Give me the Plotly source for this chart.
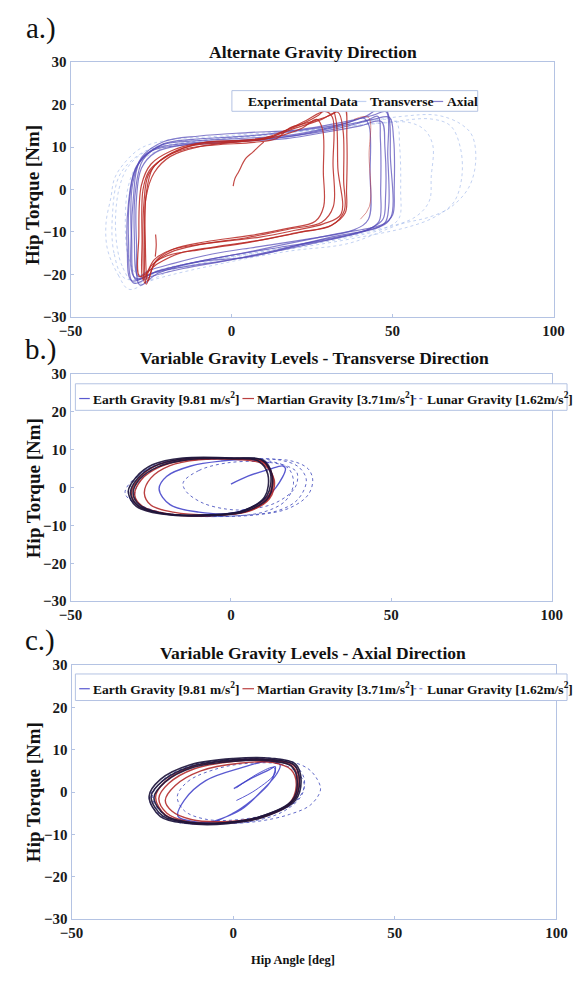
import plotly.graph_objects as go

W, H = 579, 982
FONT = "Liberation Serif"

# ---------------- data: hip angle [deg] / hip torque [Nm] loop vertices ----------------
EXPERIMENTAL_LOOPS = [
    [(-31.9, -23.5), (-35, -20.4), (-38.5, -14.2), (-39, -8), (-37.5, -2), (-36.3, 2.7), (-33, 6.5),
     (-28, 9.8), (-20, 11.6), (-5, 12.5), (15, 13.6), (35, 15.2), (52.7, 17.2), (63.7, 17.5), (71, 15.5),
     (74.7, 12.7), (75.8, 6.5), (73.6, 0.4), (68, -4.2), (61.4, -6.5), (52.7, -8.1), (36.3, -12.7),
     (18, -14.5), (-2.2, -17.3), (-24, -21.2), (-31.9, -23.5)],
    [(-30, -22), (-34, -18), (-36, -10), (-35, 0), (-32, 5.5), (-26, 9.2), (-15, 11), (5, 12.4), (25, 14),
     (45, 15.5), (55, 15.8), (60, 14), (62.5, 10.4), (62, 3), (61.4, -2.7), (57, -6.5), (45, -9.5),
     (25, -12.6), (5, -15), (-15, -18), (-30, -22)],
    [(-33, -21), (-36.5, -15), (-37, -6), (-35, 3), (-30, 7.5), (-22, 10.5), (-8, 12), (12, 13), (32, 14.5),
     (50, 16), (62, 16.6), (68, 15), (71, 10), (71.5, 3), (69, -3), (63, -6.5), (55, -8.8), (38, -11.5),
     (20, -13.8), (0, -16), (-20, -19), (-33, -21)],
    [(-29, -20), (-32, -16), (-33, -8), (-32, 1), (-29, 6), (-22, 9.5), (-10, 11.5), (10, 12.8), (30, 14.6),
     (45, 16.4), (51, 16), (52.2, 10), (52.5, 0), (52, -6.8), (48, -9), (35, -11.5), (15, -14), (-5, -16.4),
     (-20, -18.4), (-29, -20)],
]

TRANSVERSE_LOOPS = [
    [(-29.7, -21.2), (-31, -12), (-30.5, -2), (-28.6, 6.5), (-22, 10.4), (-16.5, 11.2), (0, 11.9), (19.8, 13),
     (36.3, 15.8), (41.8, 17.3), (47.3, 19.6), (48.9, 17), (49.3, 8), (49.5, -6.5), (46, -8.8), (30.8, -11.2),
     (14.3, -14.2), (0, -16.5), (-13, -18), (-24, -19.6), (-29.7, -21.2)],
    [(-30.5, -22), (-32, -12), (-31.5, -1), (-29.5, 5.5), (-24, 9.5), (-15, 10.8), (0, 11.5), (18, 12.5),
     (33, 14.8), (42, 16.3), (45.5, 17.2), (46.2, 12), (46.3, 0), (45.8, -7.5), (42, -9.6), (28, -12.2),
     (12, -14.8), (-2, -16.8), (-15, -18.6), (-25, -20.5), (-30.5, -22)],
    [(-29, -20.5), (-30.2, -11), (-29.8, 0), (-27.5, 7), (-21, 10.8), (-12, 11.8), (3, 12.5), (20, 13.8),
     (35, 15.5), (41, 16.8), (42.7, 15), (43, 4), (42.5, -7), (38, -9.5), (25, -11.5), (8, -13.5),
     (-6, -15.2), (-18, -17.4), (-26, -19.2), (-29, -20.5)],
    [(-31, -21.5), (-32.4, -14), (-32, -3), (-30, 4.5), (-25, 9), (-17, 10.3), (-2, 11), (15, 12.2),
     (32, 14.2), (44, 16.5), (49, 17), (50.3, 12), (50.5, 0), (50, -6), (47, -8.2), (33, -10.4), (16, -13),
     (2, -15.2), (-12, -17.2), (-24, -19.5), (-31, -21.5)],
    [(-28.5, -22.5), (-29.5, -13), (-29.6, -3), (-28, 5), (-23.5, 8.8), (-14, 10.6), (1, 11.3), (17, 12),
     (30, 13.6), (40, 15), (46.5, 16), (47.6, 10), (47.8, -2), (47, -7), (43, -9.2), (30, -11.8),
     (15, -13.6), (-1, -15.6), (-14, -17.6), (-23, -19.8), (-28.5, -22.5)],
    [(-30, -20.8), (-31.2, -10), (-30.8, 1), (-28, 7.5), (-21, 11.3), (-10, 12.6), (5, 13.4), (20, 14),
     (30, 15.2), (38, 16.4), (44, 17.5), (48, 18.3), (48.5, 8), (48.8, -4), (47.5, -8), (40, -10),
     (24, -12.5), (6, -15.8), (-10, -17), (-22, -19), (-30, -20.8)],
]

AXIAL_LOOPS = [
    [(-27.5, -21.2), (-27.8, -12), (-27.5, 0), (-25.5, 4.5), (-22, 6.9), (-15.4, 9.6), (-7.7, 11.2),
     (8.8, 11.9), (15.4, 13.5), (22, 15.5), (27, 17.5), (30.8, 19.8), (32.5, 16), (33, 5), (34, -5.8),
     (28.5, -8.1), (19.8, -9.6), (8.8, -11.2), (-7.7, -12.7), (-18.7, -14.2), (-24, -16.5), (-27.5, -21.2)],
    [(-26.5, -22.3), (-27, -13), (-26.5, -1), (-24.5, 5), (-20, 8), (-13, 10.2), (-4, 11), (8, 11.6),
     (16, 12.8), (22, 14.5), (26.5, 16.5), (28.3, 14), (28.5, 4), (28.6, -4), (26, -7.5), (17, -9.2),
     (6, -10.8), (-8, -12.3), (-18, -14), (-23.5, -16.8), (-26.5, -22.3)],
    [(-28.5, -20.5), (-28.8, -11), (-28, 1), (-25, 6), (-19, 9), (-11, 10.8), (0, 11.4), (12, 12.4),
     (20, 14.5), (28, 16.5), (33, 18.2), (34.6, 14), (34.8, 2), (35, -5), (31, -8.5), (22, -10),
     (10, -11.8), (-5, -13.5), (-16, -15), (-23, -17.5), (-28.5, -20.5)],
    [(-27, -22), (-27.5, -14), (-27.2, -3), (-25.8, 3.5), (-21, 7.5), (-14, 9.6), (-5, 10.5), (7, 11.1),
     (14, 12), (18, 14.5), (24, 15.8), (31, 17.6), (35, 19.6), (35.8, 12), (35.7, 0), (35.3, -5.5),
     (31, -8.4), (20, -10.2), (5, -12.5), (-9, -14.1), (-20, -15.6), (-25, -18), (-27, -22)],
    [(-26, -21.5), (-26.8, -12), (-26.6, -2), (-24, 4), (-19, 7.8), (-10, 10.1), (2, 11.2), (11, 12),
     (17, 14), (23, 16.2), (29, 18.4), (31.3, 17), (31.5, 6), (31.6, -4), (28, -7.7), (18, -9.3),
     (5, -11.3), (-10, -13), (-19, -14.8), (-24, -17.5), (-26, -21.5)],
]
AXIAL_START = [(0.5, 0.8), (1, 2.5), (2.2, 4.2), (4.4, 7.3), (6.6, 8.8), (8.8, 10.4), (10, 11.2)]
AXIAL_OUTER = [(38, 16.5), (42.5, 17), (42.7, 8), (42.8, -4), (40, -7)]
AXIAL_SPIKE = [(-23.6, -10.6), (-23.4, -13), (-23.7, -15.8)]

# transverse direction under variable gravity
EARTH_T_LOOPS = [
    [(-31.3, -1.3), (-29, 2.5), (-24, 5.6), (-14.7, 7.6), (0.9, 7.7), (9.5, 7.3), (12.3, 3.9), (11.2, -2.2),
     (4, -6.1), (-7, -7.2), (-21.3, -6.8), (-29, -4.8), (-31.3, -1.3)],
    [(-30.5, -1.5), (-28.5, 2.2), (-23, 5.4), (-14, 7.3), (0, 7.6), (8.5, 7), (11.5, 3.5), (10.5, -2.5),
     (3.5, -6.2), (-7.5, -7.3), (-21, -6.9), (-28.5, -4.6), (-30.5, -1.5)],
    [(-32, -1), (-29.5, 2.8), (-24.5, 6), (-15, 7.8), (1.5, 7.8), (10, 7.2), (12.8, 3.5), (11.8, -2.5),
     (4.5, -6.3), (-6.5, -7.4), (-21.5, -7), (-29.5, -5), (-32, -1)],
]
EARTH_T_FIRST = [(0, 0.9), (5.3, 3), (11.9, 4.8), (16.2, 5.7), (17, 5), (14, 0), (8, -4.5), (0, -6.8),
                 (-10, -6.5), (-19, -4.5), (-22.4, -0.4), (-20, 3), (-12.5, 5.7), (-3, 7), (6, 7.4), (12, 6.5)]
MARTIAN_T_LOOPS = [
    [(-30, -2), (-28, 2), (-22, 5.5), (-13, 7.3), (1, 7.5), (10, 6.8), (13, 3), (12, -2.5), (6, -6),
     (-5, -7.3), (-19, -7), (-27.5, -5), (-30, -2)],
    [(-31, -1.5), (-28.5, 2.6), (-23, 5.9), (-14, 7.6), (0, 7.7), (9, 7.1), (12.5, 4), (12, -1.8), (5.5, -6),
     (-6, -7.4), (-20, -7), (-28.5, -5.2), (-31, -1.5)],
    [(-27, -1.5), (-25, 2.5), (-19, 5.8), (-10, 7.3), (2, 7.4), (10, 6.2), (13.5, 2), (12, -3), (5, -6.4),
     (-6, -7.2), (-18, -6.5), (-25, -4.6), (-27, -1.5)],
]
LUNAR_T_LOOPS = [
    [(-32, -1), (-29, 3), (-22, 6.5), (-10, 7.6), (5, 7.7), (15, 7.3), (21, 5.5), (23.5, 2), (21, -3),
     (15, -6), (3, -7.4), (-12, -7.5), (-25, -6), (-31, -3.5), (-32, -1)],
    [(-30, -1.5), (-27, 3), (-19, 6.5), (-6, 7.5), (10, 7.5), (19, 7), (24, 5), (25.5, 2), (24, -2),
     (18, -5.5), (8, -7.2), (-8, -7.6), (-22, -6.5), (-29, -4), (-30, -1.5)],
    [(-33, -1.5), (-30, 2.5), (-23, 6), (-12, 7.4), (2, 7.5), (12, 7), (18, 5), (19.5, 1), (17, -3.5),
     (10, -6.5), (-2, -7.6), (-16, -7.3), (-27, -5.5), (-33, -1.5)],
    [(-14.9, 1.3), (-10, 4.5), (-1.3, 6.5), (10, 6.8), (18, 5.5), (20.6, 3.9), (20, 0), (14, -4), (5, -5.8),
     (-1.3, -5.7), (-9, -4), (-14, -1), (-14.9, 1.3)],
]

# axial direction under variable gravity
EARTH_A_LOOPS = [
    [(-25.4, -1.1), (-21.7, 2.7), (-12.9, 6.1), (0.2, 7.6), (11.2, 7.7), (18.8, 6.4), (20.5, 2.7),
     (18.8, -1.9), (9, -5.7), (-2, -7.2), (-14, -7.2), (-21.7, -5.7), (-25.4, -1.1)],
    [(-24.5, -1.3), (-21, 2.4), (-12.5, 5.8), (0.5, 7.3), (11, 7.4), (18, 6.1), (19.8, 2.5), (18.2, -2),
     (8.5, -5.8), (-2.5, -7.3), (-14, -7.1), (-21, -5.5), (-24.5, -1.3)],
    [(-26, -1), (-22.5, 3), (-13.5, 6.4), (0, 7.9), (11.5, 8), (19.3, 6.6), (21, 2.7), (19.2, -2),
     (9.5, -5.9), (-2, -7.5), (-14.5, -7.4), (-22.5, -5.8), (-26, -1)],
]
EARTH_A_FIRST = [(0.2, 0.8), (5, 3), (11.2, 5.3), (13, 6), (12, 3), (8, -0.5), (4, -3), (0, -5), (-6, -7),
                 (-12, -7), (-17.1, -5.7), (-15.1, -1.9), (-8.5, 2.7), (2.4, 5.7), (11.2, 7.3), (14.5, 6.4),
                 (13.4, 4.2), (9, 0.4), (2.4, -4.2), (-6.3, -7)]
EARTH_A_SECOND = [(1, 1), (8, 4.5), (12.5, 5.8), (13, 4.5), (7, 0.5), (1, -2)]
MARTIAN_A_LOOPS = [
    [(-23, -1.5), (-20, 2), (-12, 5.5), (0, 7.2), (11, 7.5), (18.5, 6), (20, 2), (18, -2.5), (9, -5.8),
     (-3, -7.3), (-14, -7), (-20.5, -5), (-23, -1.5)],
    [(-24, -1.2), (-21, 2.5), (-12.5, 6), (0.5, 7.5), (11.5, 7.6), (19, 6.2), (20.4, 2.4), (18.5, -2.2),
     (9.2, -5.9), (-2.5, -7.4), (-14.5, -7.2), (-21, -5.4), (-24, -1.2)],
    [(-21, -2), (-18, 1.5), (-10, 5), (2, 6.8), (12, 7), (18, 5.2), (19.5, 1.5), (17, -3), (8, -6),
     (-3, -7), (-13, -6.5), (-19, -4.5), (-21, -2)],
]
LUNAR_A_LOOPS = [
    [(-25, -1), (-21.5, 3), (-12, 6.5), (2, 7.8), (14, 7.8), (22.8, 5.7), (26, 3), (27, 0.5), (24, -3),
     (17.4, -5.3), (7, -7), (-5, -7.5), (-16, -7.2), (-22, -5), (-25, -1)],
    [(-26, -1.5), (-22, 2.5), (-13, 6), (1, 7.5), (13, 7.6), (19.5, 6), (22, 3), (21, -1), (15, -4.8),
     (5, -7), (-6, -7.5), (-17, -7.2), (-23, -5.2), (-26, -1.5)],
    [(-17.3, -1.1), (-14, 2.5), (-5, 5.5), (5, 6.8), (15, 6.5), (20, 4.5), (22, 1.5), (19, -2.5), (12, -5),
     (2, -6.5), (-8, -6.5), (-15, -4.5), (-17.3, -1.1)],
]

X_TICKS = [-50, 0, 50, 100]
Y_TICKS = [-30, -20, -10, 0, 10, 20, 30]

# ---------------- styles ----------------
C_EXP = "rgba(135,165,230,0.5)"
C_TRANS = "rgba(85,75,185,0.72)"
C_AXIAL = "rgba(185,40,35,0.85)"
C_EARTH_RING = "rgba(30,22,60,0.92)"
C_EARTH = "rgba(60,60,200,0.85)"
C_MARS = "rgba(175,30,30,0.85)"
C_LUNAR = "rgba(70,80,190,0.85)"
AX_LINE = "#b4c3e3"

fig = go.Figure()


def add_path(pts, axis, color, width=1.2, dash="solid"):
    xs = [p[0] for p in pts]
    ys = [p[1] for p in pts]
    fig.add_trace(go.Scatter(
        x=xs, y=ys, mode="lines", xaxis="x" + axis, yaxis="y" + axis,
        line=dict(color=color, width=width, dash=dash, shape="spline", smoothing=1.0),
        showlegend=False, hoverinfo="skip"))


# panel a
for loop in EXPERIMENTAL_LOOPS:
    add_path(loop, "", C_EXP, 1.0, "dot")
for loop in TRANSVERSE_LOOPS:
    add_path(loop, "", C_TRANS, 1.2)
for loop in AXIAL_LOOPS:
    add_path(loop, "", C_AXIAL, 1.2)
add_path(AXIAL_START, "", C_AXIAL, 1.2)
add_path(AXIAL_OUTER, "", "rgba(185,40,35,0.5)", 1.0)
add_path(AXIAL_SPIKE, "", C_AXIAL, 1.2)

# panel b
for loop in LUNAR_T_LOOPS:
    add_path(loop, "2", C_LUNAR, 1.0, "dot")
add_path(EARTH_T_FIRST, "2", C_EARTH, 1.4)
for loop in MARTIAN_T_LOOPS:
    add_path(loop, "2", C_MARS, 1.4)
for loop in EARTH_T_LOOPS:
    add_path(loop, "2", C_EARTH_RING, 1.6)

# panel c
for loop in LUNAR_A_LOOPS:
    add_path(loop, "3", C_LUNAR, 1.0, "dot")
add_path(EARTH_A_FIRST, "3", C_EARTH, 1.3)
add_path(EARTH_A_SECOND, "3", C_EARTH, 1.0)
for loop in MARTIAN_A_LOOPS:
    add_path(loop, "3", C_MARS, 1.4)
for loop in EARTH_A_LOOPS:
    add_path(loop, "3", C_EARTH_RING, 1.6)


def px(x):
    return x / W


def py(y):
    return 1 - y / H


TICKFONT = dict(family=FONT, size=15, color="#1a1a1a", weight="bold")


def axis_pair(xdom, ydom, anchor_x, anchor_y):
    xa = dict(domain=[px(xdom[0]), px(xdom[1])], range=[-50, 100], tickvals=X_TICKS,
              showgrid=False, zeroline=False, showline=True, linecolor=AX_LINE, linewidth=1,
              mirror=True, ticks="inside", ticklen=3, tickcolor=AX_LINE,
              tickfont=TICKFONT, anchor=anchor_y)
    ya = dict(domain=[py(ydom[1]), py(ydom[0])], range=[-30, 30], tickvals=Y_TICKS,
              showgrid=False, zeroline=False, showline=True, linecolor=AX_LINE, linewidth=1,
              mirror=True, ticks="inside", ticklen=3, tickcolor=AX_LINE,
              tickfont=TICKFONT, anchor=anchor_x)
    return xa, ya


xa1, ya1 = axis_pair((61, 564), (55, 314), "x", "y")
xa2, ya2 = axis_pair((61, 562), (372, 603), "x2", "y2")
xa3, ya3 = axis_pair((62, 567), (668, 926), "x3", "y3")

annotations = []
shapes = []


def text(x, y, s, size=13, bold=True, anchor="center", angle=0):
    annotations.append(dict(
        x=px(x), y=py(y), xref="paper", yref="paper", text=("<b>%s</b>" % s) if bold else s,
        showarrow=False, xanchor=anchor, yanchor="middle", textangle=angle,
        font=dict(family=FONT, size=size, color="#111")))


# panel labels and titles
text(30, 21, "a.)", size=29, bold=False)
text(30, 347, "b.)", size=29, bold=False)
text(29, 643, "c.)", size=29, bold=False)
text(313, 45, "Alternate Gravity Direction", size=17.5)
text(315, 356, "Variable Gravity Levels - Transverse Direction", size=17.5)
text(313, 656, "Variable Gravity Levels - Axial Direction", size=17.5)
for yc in (190, 488, 797):
    text(22, yc, "Hip Torque [Nm]", size=19, angle=-90)
text(293, 968, "Hip Angle [deg]", size=12.5)


def legend_box(x0, y0, x1, y1):
    shapes.append(dict(type="rect", xref="paper", yref="paper", x0=px(x0), x1=px(x1),
                       y0=py(y1), y1=py(y0), line=dict(color=AX_LINE, width=1),
                       fillcolor="white", layer="above"))


def legend_line(x0, x1, y, color, dash="solid"):
    shapes.append(dict(type="line", xref="paper", yref="paper", x0=px(x0), x1=px(x1),
                       y0=py(y), y1=py(y), line=dict(color=color, width=1.2, dash=dash),
                       layer="above"))


# legend of panel a
legend_box(229, 84, 485, 105)
text(244, 95, "Experimental Data", size=13.5, anchor="left")
legend_line(356, 369, 95, C_EXP)
text(371, 95, "Transverse", size=13.5, anchor="left")
legend_line(437, 449, 95, C_TRANS)
text(451, 95, "Axial", size=13.5, anchor="left")

GRAV_LABELS = ["Earth Gravity [9.81 m/s<sup>2</sup>]", "Martian Gravity [3.71m/s<sup>2</sup>]",
               "Lunar Gravity [1.62m/s<sup>2</sup>]"]

# legends of panels b and c
for (y0, y1, yc) in ((382, 409, 397), (677, 704, 692)):
    legend_box(66, y0, 578, y1)
    legend_line(70, 81, yc, C_EARTH)
    text(82, yc, GRAV_LABELS[0], size=13.5, anchor="left")
    legend_line(240, 252, yc, C_MARS)
    text(253, yc, GRAV_LABELS[1], size=13.5, anchor="left")
    legend_line(418, 429, yc, C_LUNAR, "dot")
    text(430, yc, GRAV_LABELS[2], size=13.5, anchor="left")

fig.update_layout(
    width=W, height=H, margin=dict(l=0, r=0, t=0, b=0),
    paper_bgcolor="white", plot_bgcolor="white", showlegend=False,
    xaxis=xa1, yaxis=ya1, xaxis2=xa2, yaxis2=ya2, xaxis3=xa3, yaxis3=ya3,
    annotations=annotations, shapes=shapes,
)

fig.write_html("out.html")
